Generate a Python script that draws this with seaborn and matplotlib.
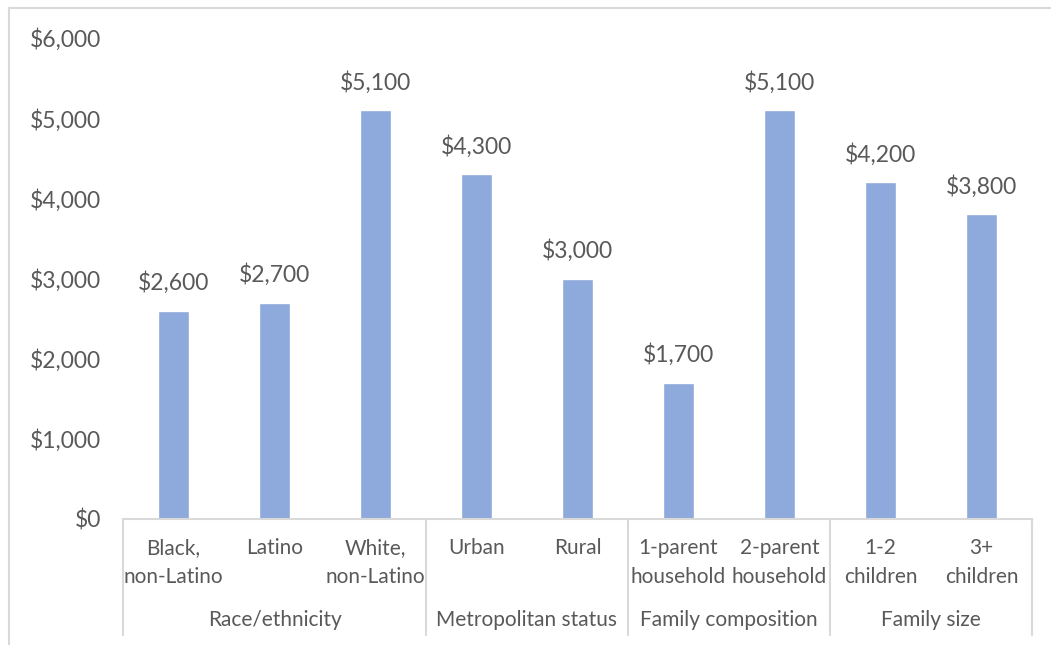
import matplotlib
matplotlib.use("Agg")
import matplotlib.pyplot as plt
import seaborn as sns
import pandas as pd
from matplotlib.lines import Line2D
from matplotlib.transforms import blended_transform_factory

categories = ["Black,\nnon-Latino", "Latino", "White,\nnon-Latino", "Urban", "Rural",
              "1-parent\nhousehold", "2-parent\nhousehold", "1-2\nchildren", "3+\nchildren"]
values = [2600, 2700, 5100, 4300, 3000, 1700, 5100, 4200, 3800]
groups = ["Race/ethnicity", "Metropolitan status", "Family composition", "Family size"]
group_sizes = [3, 2, 2, 2]
yticks = [0, 1000, 2000, 3000, 4000, 5000, 6000]

sns.set_theme(style="white")
plt.rcParams["font.family"] = ["Lato", "DejaVu Sans"]

TXT = "#595959"
LINE = "#D9D9D9"
BAR = "#8EA9DB"

fig = plt.figure(figsize=(10.51, 6.45), dpi=100)
W, H = 1051, 645
ax = fig.add_axes([123 / W, (H - 519) / H, (1032 - 123) / W, (519 - 38) / H])

df = pd.DataFrame({"cat": categories, "val": values})
sns.barplot(data=df, x="cat", y="val", order=categories, color=BAR, width=0.31,
            saturation=1, ax=ax)

ax.set_ylim(0, 6000)
ax.set_xlim(-0.5, len(categories) - 0.5)
ax.set_yticks(yticks)
ax.set_yticklabels([f"${v:,}" for v in yticks], color=TXT, fontsize=16.5)
ax.tick_params(axis="y", length=0, pad=16)
ax.set_xticks(range(len(categories)))
ax.set_xticklabels([])
ax.tick_params(axis="x", length=0)
ax.set_xlabel("")
ax.set_ylabel("")
for s in ["left", "top", "right"]:
    ax.spines[s].set_visible(False)
ax.spines["bottom"].set_color(LINE)
ax.spines["bottom"].set_linewidth(1.5)

# data labels
for i, v in enumerate(values):
    ax.annotate(f"${v:,}", (i, v), xytext=(0, 20), textcoords="offset points",
                ha="center", va="center", fontsize=16.5, color=TXT)

trans = blended_transform_factory(ax.transData, fig.transFigure)
# category labels (one text per line)
row_y = [548, 577]
for i, c in enumerate(categories):
    for k, line in enumerate(c.split("\n")):
        ax.text(i, (H - row_y[k]) / H, line, transform=trans, ha="center", va="center",
                fontsize=15, color=TXT)

# group labels and separators
start = 0
bounds = [-0.5]
for g, n in zip(groups, group_sizes):
    center = start + (n - 1) / 2
    ax.text(center, (H - 620) / H, g, transform=trans, ha="center", va="center",
            fontsize=15, color=TXT)
    start += n
    bounds.append(start - 0.5)
for b in bounds:
    fig.add_artist(Line2D([b, b], [(H - 519) / H, (H - 635) / H], transform=trans,
                          color=LINE, lw=1.5, clip_on=False))

# outer chart border (top and left visible)
fig.add_artist(Line2D([9 / W, 9 / W], [0, (H - 8) / H], transform=fig.transFigure,
                      color=LINE, lw=1.5))
fig.add_artist(Line2D([9 / W, 1], [(H - 8) / H, (H - 8) / H], transform=fig.transFigure,
                      color=LINE, lw=1.5))

fig.savefig("out.png", dpi=100, facecolor="white")
